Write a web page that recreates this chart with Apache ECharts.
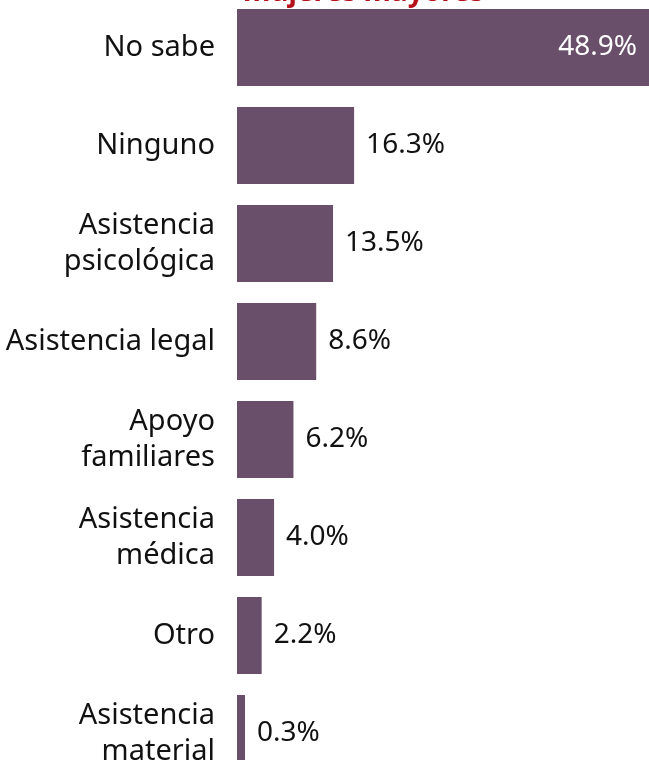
<!DOCTYPE html>
<html>
<head>
<meta charset="utf-8">
<script src="https://cdn.jsdelivr.net/npm/echarts@6/dist/echarts.min.js"></script>
<style>html,body{margin:0;padding:0;background:#fff}#c{width:649px;height:760px}</style>
</head>
<body>
<div id="c"></div>
<script>
const categories = ['No sabe', 'Ninguno', 'Asistencia\npsicológica', 'Asistencia legal', 'Apoyo\nfamiliares', 'Asistencia\nmédica', 'Otro', 'Asistencia\nmaterial'];
const shares = [48.9, 16.3, 13.5, 8.6, 6.2, 4.0, 2.2, 0.3];
const barLengths = [48.9, 13.9, 11.4, 9.4, 6.7, 4.4, 2.93, 0.95];
const titleText = 'mujeres mayores';

const chart = echarts.init(document.getElementById('c'));
const FONT = 'Noto Sans';
chart.setOption({
  animation: false,
  title: {
    text: titleText, left: 238, top: -26,
    textStyle: { fontFamily: FONT, fontSize: 28, fontWeight: 'bold', color: '#b5121b' }
  },
  grid: { left: 237, right: 0, top: -1.5, height: 784, containLabel: false, outerBoundsMode: 'none' },
  xAxis: { type: 'value', min: 0, max: 48.9, show: false },
  yAxis: {
    type: 'category', data: categories, inverse: true,
    axisLine: { show: false }, axisTick: { show: false },
    axisLabel: { margin: 22, fontFamily: FONT, fontSize: 29, color: '#111', lineHeight: 36, align: 'right' }
  },
  series: [{
    type: 'bar',
    data: barLengths.map((v, i) => ({
      value: v,
      label: i === 0
        ? { position: 'insideRight', color: '#fff', distance: 12 }
        : { position: 'right', color: '#111', distance: 12 }
    })),
    barCategoryGap: '21.4%',
    itemStyle: { color: '#6a4f6b' },
    label: {
      show: true, fontFamily: FONT, fontSize: 28,
      formatter: p => shares[p.dataIndex].toFixed(1) + '%'
    }
  }]
});
</script>
</body>
</html>
